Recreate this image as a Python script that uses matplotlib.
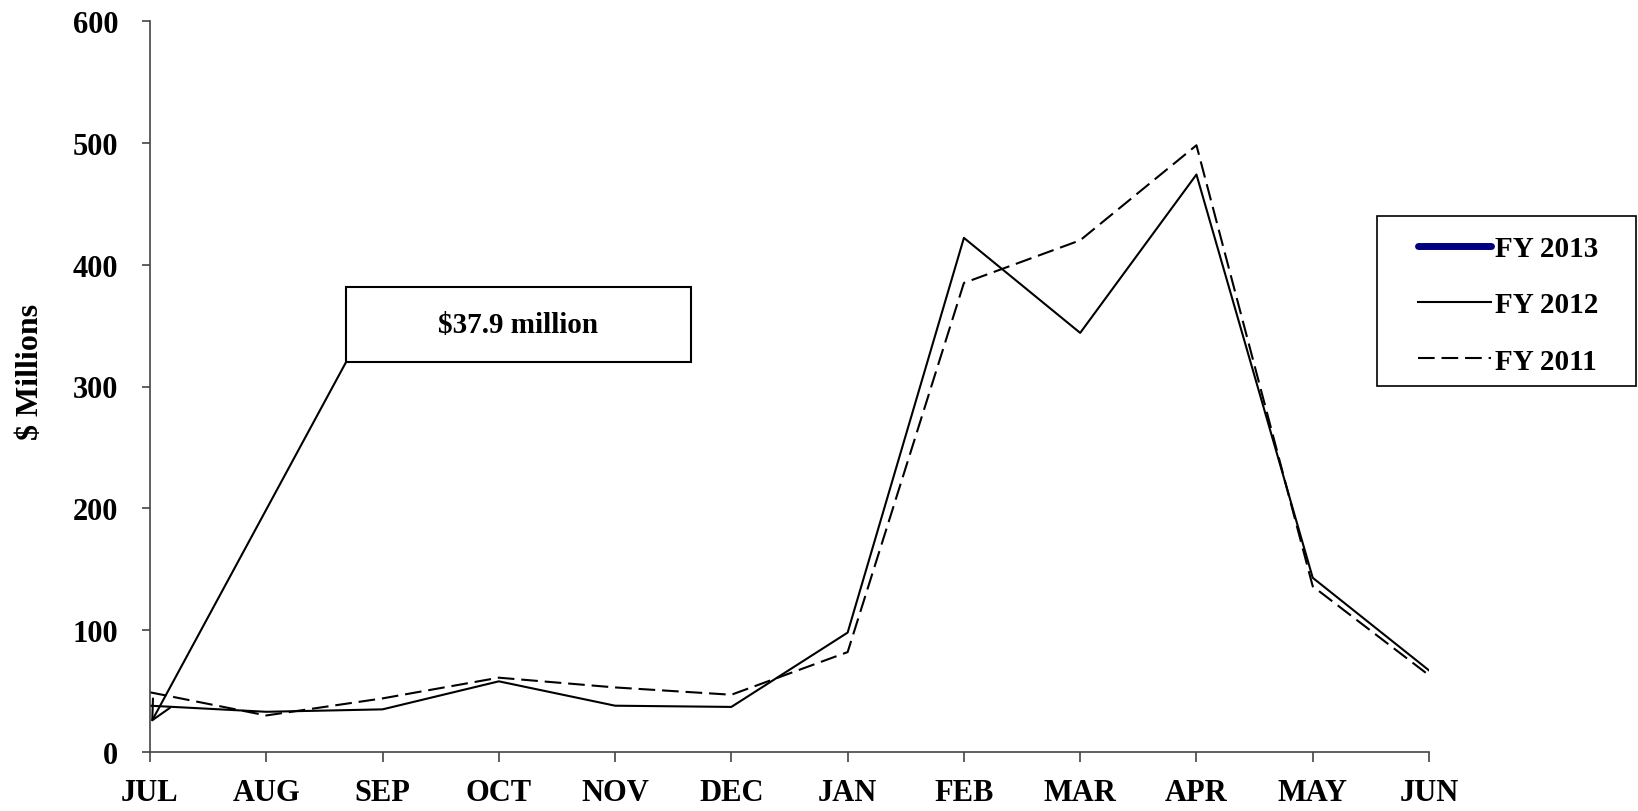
import numpy as np
import matplotlib.pyplot as plt
from matplotlib.patches import Rectangle

plt.rcParams['font.family'] = ['Liberation Serif', 'DejaVu Serif']
plt.rcParams['font.weight'] = 'bold'

# Monthly values, $ millions
months = ["JUL", "AUG", "SEP", "OCT", "NOV", "DEC", "JAN", "FEB", "MAR", "APR", "MAY", "JUN"]
fy2013 = [37.9]
fy2012 = [38, 33, 35, 58, 38, 37, 98, 422, 344, 474, 143, 67]
fy2011 = [49, 30, 44, 61, 53, 47, 82, 385, 420, 498, 136, 63]
callout = "$37.9 million"

W, H = 1638, 812
fig = plt.figure(figsize=(W / 100, H / 100), dpi=100)
ax = fig.add_axes([150/W, 1 - 753/H, 1279/W, 731/H])

x = np.arange(len(months))
ax.plot(x[:len(fy2013)], fy2013, color="#000080", lw=5, solid_capstyle="round", label="FY 2013")
ax.plot(x, fy2012, color="black", lw=1.5, label="FY 2012")
ax.plot(x, fy2011, color="black", lw=1.5, dashes=(8, 3.3), label="FY 2011")

ax.set_xlim(0, 11)
ax.set_ylim(0, 600)
ax.set_xticks(x)
ax.set_xticklabels(months)
ax.set_yticks(np.arange(0, 601, 100))
for s in ["top", "right"]:
    ax.spines[s].set_visible(False)
for s in ["left", "bottom"]:
    ax.spines[s].set_color("#444444")
    ax.spines[s].set_linewidth(1.2)
ax.tick_params(axis="both", colors="#444444", labelcolor="black", labelsize=22, width=1.2)
ax.tick_params(axis="y", length=6, pad=17)
ax.tick_params(axis="x", length=7, pad=12)

fig.text(31/W, 1 - 372/H, "$ Millions", rotation=90, ha="center", va="center", fontsize=23, fontweight="bold")

# callout box and arrow
ax.add_patch(Rectangle((1.686, 320), 4.65 - 1.686, 381.7 - 320, fill=False, ec="black", lw=1.5, clip_on=False))
ax.text((1.686 + 4.65) / 2, 350.5, callout, ha="center", va="center", fontsize=21, fontweight="bold")
ax.annotate("", xy=(0.01, 24.4), xytext=(1.686, 320),
            arrowprops=dict(arrowstyle="->,head_length=0.7,head_width=0.35", color="black", lw=1.5,
                            mutation_scale=20, shrinkA=0, shrinkB=0), annotation_clip=False)

# legend entries without frame, box drawn separately
leg = fig.legend(loc="center left", bbox_to_anchor=(1403/W, 1 - 306/H),
                 frameon=False, fontsize=21, handlelength=2.5, handletextpad=0.15,
                 labelspacing=1.0, borderpad=0)
fig.patches.append(Rectangle((1377/W, 1 - 387/H), 259/W, 170/H, transform=fig.transFigure,
                             fill=False, ec="black", lw=1.2))

fig.savefig("out.png", dpi=100)
